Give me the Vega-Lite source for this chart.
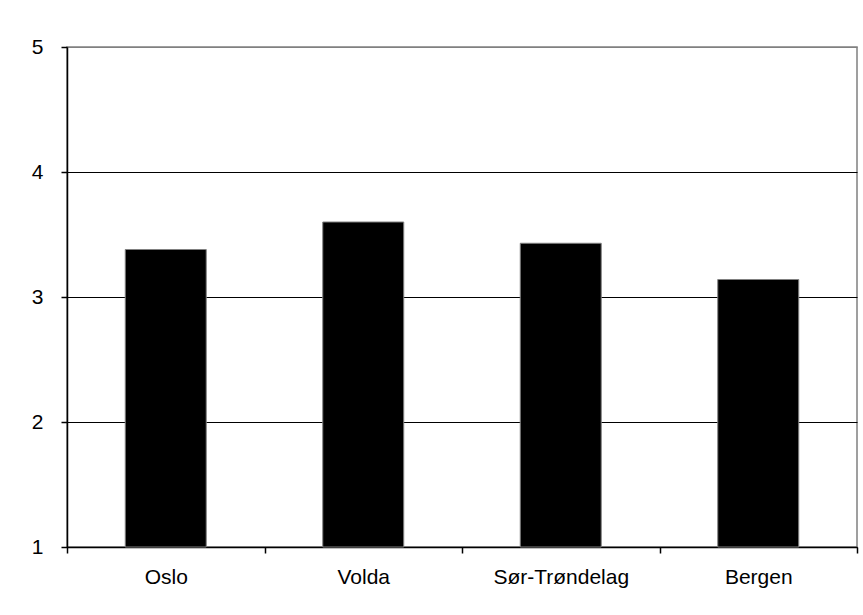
{
  "$schema": "https://vega.github.io/schema/vega-lite/v6.json",
  "width": 790,
  "height": 500,
  "autosize": "none",
  "padding": {"left": 67, "top": 47, "right": 6, "bottom": 68},
  "background": "white",
  "config": {
    "view": {"stroke": "#808080", "strokeWidth": 1.5},
    "font": "Liberation Sans"
  },
  "data": {
    "values": [
      {"region": "Oslo", "value": 3.38},
      {"region": "Volda", "value": 3.6},
      {"region": "Sør-Trøndelag", "value": 3.43},
      {"region": "Bergen", "value": 3.14}
    ]
  },
  "mark": {"type": "bar", "width": {"band": 0.41}, "color": "black", "stroke": "#808080", "strokeWidth": 1},
  "encoding": {
    "x": {
      "field": "region",
      "type": "nominal",
      "sort": null,
      "scale": {"paddingInner": 0, "paddingOuter": 0},
      "axis": {
        "title": null,
        "labelAngle": 0,
        "labelFontSize": 21,
        "labelColor": "black",
        "labelPadding": 13,
        "labelOverlap": false,
        "labelBound": false,
        "labelFlush": false,
        "tickBand": "extent",
        "tickSize": 6,
        "tickColor": "black",
        "tickWidth": 1.5,
        "domainColor": "black",
        "domainWidth": 1.5,
        "grid": false
      }
    },
    "y": {
      "field": "value",
      "type": "quantitative",
      "scale": {"domain": [1, 5], "nice": false, "zero": false},
      "axis": {
        "title": null,
        "values": [1, 2, 3, 4, 5],
        "labelFontSize": 21,
        "labelColor": "black",
        "labelPadding": 18,
        "labelOverlap": false,
        "labelFlush": false,
        "tickSize": 6,
        "tickColor": "black",
        "tickWidth": 1.5,
        "domainColor": "black",
        "domainWidth": 1.5,
        "grid": true,
        "gridColor": {"condition": {"test": "datum.value === 5", "value": "#808080"}, "value": "black"},
        "gridWidth": 1.2,
        "gridOpacity": 1
      }
    },
    "y2": {"datum": 1}
  }
}
